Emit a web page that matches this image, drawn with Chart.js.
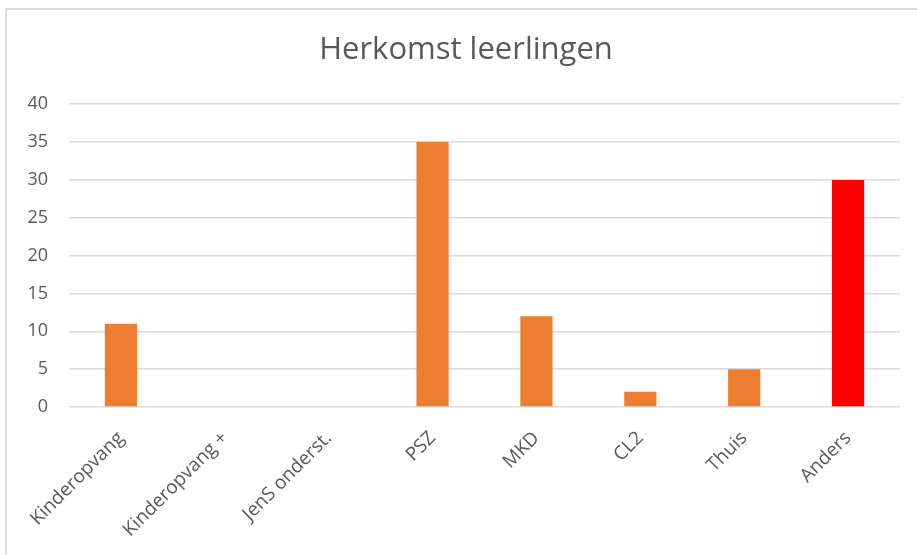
<!DOCTYPE html>
<html lang="nl">
<head>
    <meta charset="UTF-8">
    <title>Herkomst leerlingen</title>
    <script src="https://cdn.jsdelivr.net/npm/chart.js"></script>
    <style>
        html, body { margin: 0; padding: 0; background: #FFFFFF; }
        .frame {
            position: absolute;
            left: 5px; top: 8px;
            width: 912px; height: 547px;
            border-top: 2px solid #DCDCDC;
            border-left: 2px solid #DCDCDC;
        }
        .chart-box { position: absolute; left: 0; top: 0; width: 917px; height: 555px; }
    </style>
</head>
<body>
    <div class="frame"></div>
    <div class="chart-box">
        <canvas id="herkomstChart" width="917" height="555"></canvas>
    </div>

    <script>
        // Data uit de grafiek
        const categories = ['Kinderopvang', 'Kinderopvang +', 'JenS onderst.', 'PSZ', 'MKD', 'CL2', 'Thuis', 'Anders'];
        const aantallen = [11, 0, 0, 35, 12, 2, 5, 30];
        const barColors = ['#ED7D31', '#ED7D31', '#ED7D31', '#ED7D31', '#ED7D31', '#ED7D31', '#ED7D31', '#FF0000'];
        const yTicks = [0, 5, 10, 15, 20, 25, 30, 35, 40];

        const textGray = '#595959';
        const fontFamily = "'Open Sans', sans-serif";

        // titel iets rechts van het midden zetten, zoals in het origineel
        const titleShift = {
            id: 'titleShift',
            afterLayout(chart) {
                if (chart.titleBlock) chart.titleBlock.left += 32;
            }
        };

        const ctx = document.getElementById('herkomstChart').getContext('2d');
        new Chart(ctx, {
            type: 'bar',
            data: {
                labels: categories,
                datasets: [{
                    label: 'Herkomst leerlingen',
                    data: aantallen,
                    backgroundColor: barColors,
                    borderWidth: 0,
                    barPercentage: 0.31,
                    categoryPercentage: 1.0
                }]
            },
            options: {
                responsive: false,
                animation: false,
                devicePixelRatio: 1,
                layout: { padding: { left: 0, right: 17, top: 0, bottom: 0 } },
                plugins: {
                    legend: { display: false },
                    tooltip: { enabled: false },
                    title: {
                        display: true,
                        text: 'Herkomst leerlingen',
                        color: textGray,
                        font: { family: fontFamily, size: 31, weight: 'normal', lineHeight: 1.2 },
                        padding: { top: 32, bottom: 35 }
                    }
                },
                scales: {
                    x: {
                        grid: { display: false },
                        border: { display: false },
                        ticks: {
                            color: textGray,
                            font: { family: fontFamily, size: 19 },
                            minRotation: 45,
                            maxRotation: 45,
                            autoSkip: false,
                            padding: 12
                        },
                        afterFit: (scale) => { scale.height = 148; }
                    },
                    y: {
                        min: 0,
                        max: 40,
                        afterBuildTicks: (scale) => { scale.ticks = yTicks.map(v => ({ value: v })); },
                        grid: { color: '#D9D9D9', lineWidth: 1.5, drawTicks: false },
                        border: { display: false },
                        ticks: {
                            color: textGray,
                            font: { family: fontFamily, size: 18 },
                            padding: 21
                        },
                        afterFit: (scale) => { scale.width = 69; }
                    }
                }
            },
            plugins: [titleShift]
        });
    </script>
</body>
</html>
